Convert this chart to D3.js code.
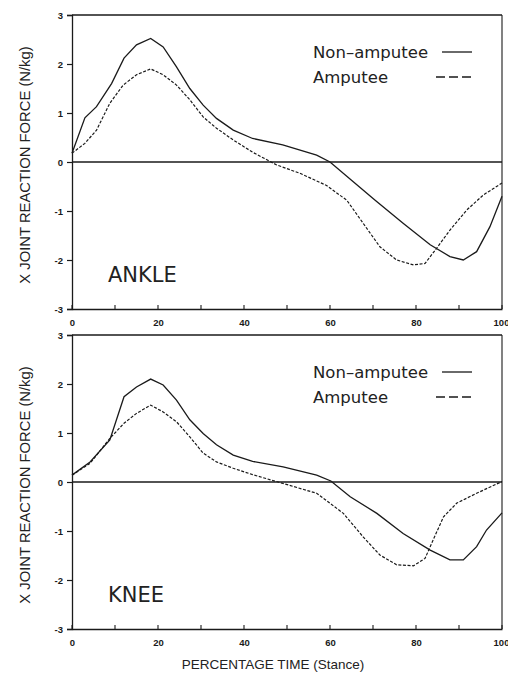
<!DOCTYPE html>
<html>
<head>
<meta charset="utf-8">
<script src="https://cdn.jsdelivr.net/npm/d3@7"></script>
<style>
  body { margin: 0; background: #fff; }
  svg { display: block; }
</style>
</head>
<body>
<svg id="chart" width="508" height="674"></svg>
<script>
// [percent stance, force N/kg]
let ankleNonAmputee = [[0,0.18],[3,0.9],[5.7,1.13],[9.2,1.6],[12.1,2.12],[15,2.39],[18.3,2.52],[21.2,2.35],
    [24.3,1.94],[27.4,1.5],[30.5,1.16],[33.6,0.89],[37.5,0.65],[42,0.48],[49,0.35],[56.9,0.14],[60,0],
    [65,-0.37],[70.5,-0.78],[77,-1.25],[83.3,-1.69],[87.9,-1.93],[91,-2.0],[94.1,-1.83],[97.2,-1.32],[100,-0.7]]
let ankleAmputee = [[0,0.18],[3,0.38],[5.7,0.65],[8.8,1.2],[11.9,1.57],[15,1.78],[18.3,1.9],[21.2,1.78],
    [24.3,1.57],[27.4,1.27],[30.5,0.92],[33.6,0.69],[37.5,0.45],[42,0.2],[47.6,-0.06],[53,-0.23],[59.2,-0.48],
    [63.9,-0.78],[67.7,-1.25],[71.6,-1.73],[75.5,-2.0],[79.4,-2.1],[82.1,-2.07],[84.8,-1.76],[87.9,-1.39],
    [91.8,-0.98],[95.7,-0.67],[100,-0.43]]
let kneeNonAmputee = [[0,0.14],[4.2,0.41],[8.8,0.86],[12.1,1.74],[15,1.94],[18.3,2.1],[21.2,1.98],[24.3,1.67],
    [27.4,1.27],[30.5,0.99],[33.6,0.76],[37.5,0.55],[42,0.42],[49.1,0.31],[56.9,0.14],[60.2,0.02],[64.7,-0.3],
    [70.9,-0.64],[77,-1.05],[83.3,-1.39],[87.9,-1.59],[91,-1.59],[94.1,-1.32],[96.4,-0.98],[100,-0.63]]
let kneeAmputee = [[0,0.14],[4.2,0.38],[8.8,0.89],[12.1,1.2],[15,1.4],[18.3,1.57],[21.2,1.43],[24.3,1.23],
    [27.4,0.92],[30.5,0.59],[33.6,0.41],[37.5,0.28],[42,0.15],[49.1,-0.03],[56.9,-0.23],[63.1,-0.64],
    [67.7,-1.12],[71.6,-1.49],[75.5,-1.69],[79.4,-1.71],[82.1,-1.56],[84,-1.18],[86.4,-0.71],[89.5,-0.43],
    [94.1,-0.23],[100,0.01]]

let panelNames = ['ANKLE', 'KNEE']
let seriesNames = ['Non\u2013amputee', 'Amputee']
let xTicks = [0, 20, 40, 60, 80, 100]
let xMinorTicks = [10, 30, 50, 70, 90]
let yTicks = [3, 2, 1, 0, -1, -2, -3]

let panels = [
    {name: panelNames[0], series: [ankleNonAmputee, ankleAmputee], top: 15, bottom: 309},
    {name: panelNames[1], series: [kneeNonAmputee, kneeAmputee], top: 335, bottom: 629}
]

let svg = d3.select('#chart')
let ink = '#1a1a1a'
let left = 72, right = 502

let x = d3.scaleLinear().domain([0, 100]).range([left, right])

panels.forEach(p => {
    let y = d3.scaleLinear().domain([-3, 3]).range([p.bottom, p.top])
    let g = svg.append('g')

    // y axis
    let yAxis = g.append('g')
        .attr('transform', `translate(${left},0)`)
        .call(d3.axisLeft(y).tickValues(yTicks).tickSize(5).tickFormat(d => d < 0 ? '-' + Math.abs(d) : d))
    yAxis.select('.domain').attr('stroke', ink).attr('stroke-width', 1.3)
    yAxis.selectAll('line').attr('stroke', ink).attr('stroke-width', 1.2)
    yAxis.selectAll('text')
        .attr('font-family', 'Liberation Sans, Arial, sans-serif')
        .attr('font-size', 9.5).attr('font-weight', 'bold').attr('fill', ink)
        .attr('x', -9)

    // x axis
    let xAxis = g.append('g')
        .attr('transform', `translate(0,${p.bottom})`)
        .call(d3.axisBottom(x).tickValues(xTicks).tickSize(0).tickPadding(10))
    xAxis.select('.domain').attr('stroke', ink).attr('stroke-width', 1.3)
    xAxis.selectAll('text')
        .attr('font-family', 'Liberation Sans, Arial, sans-serif')
        .attr('font-size', 9.5).attr('font-weight', 'bold').attr('fill', ink)
        .attr('dx', d => d == 100 ? -1 : 0)
    g.selectAll('.minor')
        .data(xTicks.concat(xMinorTicks))
        .enter()
        .append('line')
        .attr('x1', d => x(d)).attr('x2', d => x(d))
        .attr('y1', p.bottom).attr('y2', p.bottom - 4)
        .attr('stroke', ink).attr('stroke-width', 1.1)

    // frame and zero line
    g.append('line')
        .attr('x1', left).attr('x2', right).attr('y1', y(3)).attr('y2', y(3))
        .attr('stroke', ink).attr('stroke-width', 1.3)
    g.append('line')
        .attr('x1', right).attr('x2', right).attr('y1', y(3)).attr('y2', y(-3))
        .attr('stroke', ink).attr('stroke-width', 1.1)
    g.append('line')
        .attr('x1', left).attr('x2', right).attr('y1', y(0)).attr('y2', y(0))
        .attr('stroke', ink).attr('stroke-width', 1.3)

    let line = d3.line().x(d => x(d[0])).y(d => y(d[1]))

    g.selectAll('.curve')
        .data(p.series)
        .enter()
        .append('path')
        .attr('class', 'curve')
        .attr('d', d => line(d))
        .attr('fill', 'none')
        .attr('stroke', ink)
        .attr('stroke-width', (d, i) => i == 0 ? 1.3 : 1.2)
        .attr('stroke-dasharray', (d, i) => i == 0 ? null : '3,1.6')

    // legend
    let legend = g.selectAll('.legend')
        .data(seriesNames)
        .enter()
        .append('g')
        .attr('transform', (d, i) => `translate(0,${p.top + 37 + i * 25})`)
    legend.append('text')
        .attr('x', 313).attr('y', 6)
        .attr('font-family', 'DejaVu Sans, sans-serif')
        .attr('font-size', 16.5)
        .attr('fill', '#222')
        .text(d => d)
    legend.append('line')
        .attr('x1', (d, i) => i == 0 ? 442 : 436)
        .attr('x2', (d, i) => i == 0 ? 472 : 475)
        .attr('y1', 0).attr('y2', 0)
        .attr('stroke', ink).attr('stroke-width', 1.3)
        .attr('stroke-dasharray', (d, i) => i == 0 ? null : '9,4')

    g.append('text')
        .attr('x', 108).attr('y', p.bottom - 27)
        .attr('font-family', 'DejaVu Sans, sans-serif')
        .attr('font-size', 21)
        .attr('fill', '#222')
        .text(p.name)

    g.append('text')
        .attr('transform', `translate(30,${(p.top + p.bottom) / 2 + 3}) rotate(-90)`)
        .attr('text-anchor', 'middle')
        .attr('font-family', 'Liberation Sans, Arial, sans-serif')
        .attr('font-size', 14.8)
        .attr('fill', '#222')
        .text('X JOINT REACTION FORCE (N/kg)')
})

svg.append('text')
    .attr('x', 273).attr('y', 669)
    .attr('text-anchor', 'middle')
    .attr('font-family', 'Liberation Sans, Arial, sans-serif')
    .attr('font-size', 13.5)
    .attr('fill', '#222')
    .text('PERCENTAGE TIME (Stance)')
</script>
</body>
</html>
